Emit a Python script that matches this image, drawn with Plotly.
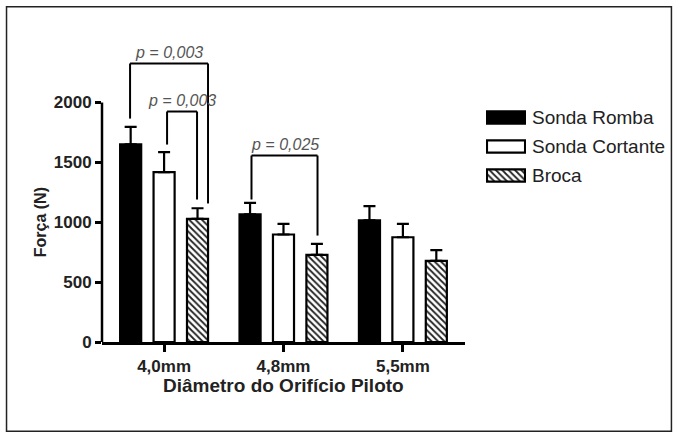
import plotly.graph_objects as go

categories = ["4,0mm", "4,8mm", "5,5mm"]
series_names = ["Sonda Romba", "Sonda Cortante", "Broca"]
sonda_romba = [1650, 1067, 1017]
sonda_romba_err = [147, 95, 117]
sonda_cortante = [1418, 898, 875]
sonda_cortante_err = [167, 89, 112]
broca = [1029, 728, 678]
broca_err = [88, 92, 89]

y_tick_vals = [0, 500, 1000, 1500, 2000]
x_title = "Diâmetro do Orifício Piloto"
y_title = "Força (N)"

# significance brackets: (x_left, x_right, y_top, y_left_bottom, y_right_bottom, label)
brackets = [
    (-0.285, 0.368, 2326, 1866, 1157, "p = 0,003"),
    (0.025, 0.276, 1925, 1649, 1190, "p = 0,003"),
    (0.732, 1.285, 1557, 1190, 889, "p = 0,025"),
]

FONT = "Liberation Sans, Arial, Helvetica, sans-serif"
HATCH = dict(shape="\\", fgcolor="#222222", bgcolor="white", size=4.5, solidity=0.4, fillmode="replace")

fig = go.Figure()
values = [sonda_romba, sonda_cortante, broca]
errors = [sonda_romba_err, sonda_cortante_err, broca_err]
colors = ["black", "white", "white"]
for i, name in enumerate(series_names):
    marker = dict(color=colors[i], line=dict(color="black", width=2.2))
    if i == 2:
        marker["pattern"] = HATCH
    fig.add_trace(go.Bar(
        x=categories, y=values[i], name=name, marker=marker,
        error_y=dict(type="data", array=errors[i], arrayminus=[0] * len(errors[i]),
                     symmetric=False, color="black", thickness=2.2, width=6),
        showlegend=False,
    ))

# custom legend swatches (library bars on a small auxiliary axis)
for i, name in enumerate(series_names):
    marker = dict(color=colors[i], line=dict(color="black", width=2.2))
    if i == 2:
        marker["pattern"] = HATCH
    fig.add_trace(go.Bar(
        y=[i], x=[1], base=0, orientation="h", width=0.42, offset=-0.21,
        xaxis="x2", yaxis="y2", showlegend=False, hoverinfo="skip", marker=marker,
    ))

shapes = []
annotations = []
for xl, xr, yt, ylb, yrb, label in brackets:
    line = dict(color="black", width=2)
    shapes.append(dict(type="line", xref="x", yref="y", x0=xl, x1=xl, y0=ylb, y1=yt, line=line))
    shapes.append(dict(type="line", xref="x", yref="y", x0=xl, x1=xr, y0=yt, y1=yt, line=line))
    shapes.append(dict(type="line", xref="x", yref="y", x0=xr, x1=xr, y0=yt, y1=yrb, line=line))
    annotations.append(dict(x=(xl + xr) / 2, y=yt, xref="x", yref="y", text=label, showarrow=False,
                            xanchor="center", yanchor="bottom", yshift=1,
                            font=dict(family=FONT, size=16, color="#555555", style="italic")))

# y axis line from 0 to 2000
shapes.append(dict(type="line", xref="paper", yref="y", x0=0, x1=0, y0=0, y1=max(y_tick_vals),
                   line=dict(color="black", width=2.5)))
# outer frame
shapes.append(dict(type="rect", xref="paper", yref="paper", x0=-0.1675, x1=0.999, y0=1.035, y1=-0.2755,
                   line=dict(color="#222222", width=1.5)))

# legend labels
for i, name in enumerate(series_names):
    annotations.append(dict(x=0.7509, y=i, xref="paper", yref="y2", text=name, showarrow=False,
                            xanchor="left", yanchor="middle",
                            font=dict(family=FONT, size=19, color="#222222")))

# axis titles
annotations.append(dict(x=-0.1088, y=1000, xref="paper", yref="y", text="<b>" + y_title + "</b>",
                        showarrow=False, textangle=-90, xanchor="center", yanchor="middle",
                        font=dict(family=FONT, size=16, color="#222222")))
annotations.append(dict(x=0.6368 / 2, y=-0.133, xref="paper", yref="paper", text="<b>" + x_title + "</b>",
                        showarrow=False, xanchor="center", yanchor="middle",
                        font=dict(family=FONT, size=19, color="#222222")))

fig.update_layout(
    width=678, height=435,
    margin=dict(l=102, r=6, t=18, b=93),
    paper_bgcolor="white", plot_bgcolor="white",
    barmode="group", bargap=0.16, bargroupgap=0.37,
    font=dict(family=FONT, color="#222222"),
    shapes=shapes, annotations=annotations,
    xaxis=dict(domain=[0, 0.6368], range=[-0.52, 2.52], showline=True, linecolor="black", linewidth=2.5,
               ticks="outside", ticklen=7, tickwidth=2.5, tickcolor="black", showgrid=False, zeroline=False,
               tickfont=dict(family=FONT, size=17, color="#222222", weight="bold")),
    yaxis=dict(range=[0, 2706], tickvals=y_tick_vals, showline=False, ticks="outside", ticklen=6,
               tickwidth=2.5, tickcolor="black", showgrid=False, zeroline=False,
               tickfont=dict(family=FONT, size=17, color="#222222", weight="bold")),
    xaxis2=dict(domain=[0.6737, 0.7439], range=[-0.025, 1.025], anchor="y2", visible=False),
    yaxis2=dict(domain=[0.4691, 0.7377], range=[2.5, -0.5], anchor="x2", visible=False),
)

fig.write_html("out.html", config={"displayModeBar": False},
               post_script="document.body.style.margin='0';document.body.style.padding='0';")
